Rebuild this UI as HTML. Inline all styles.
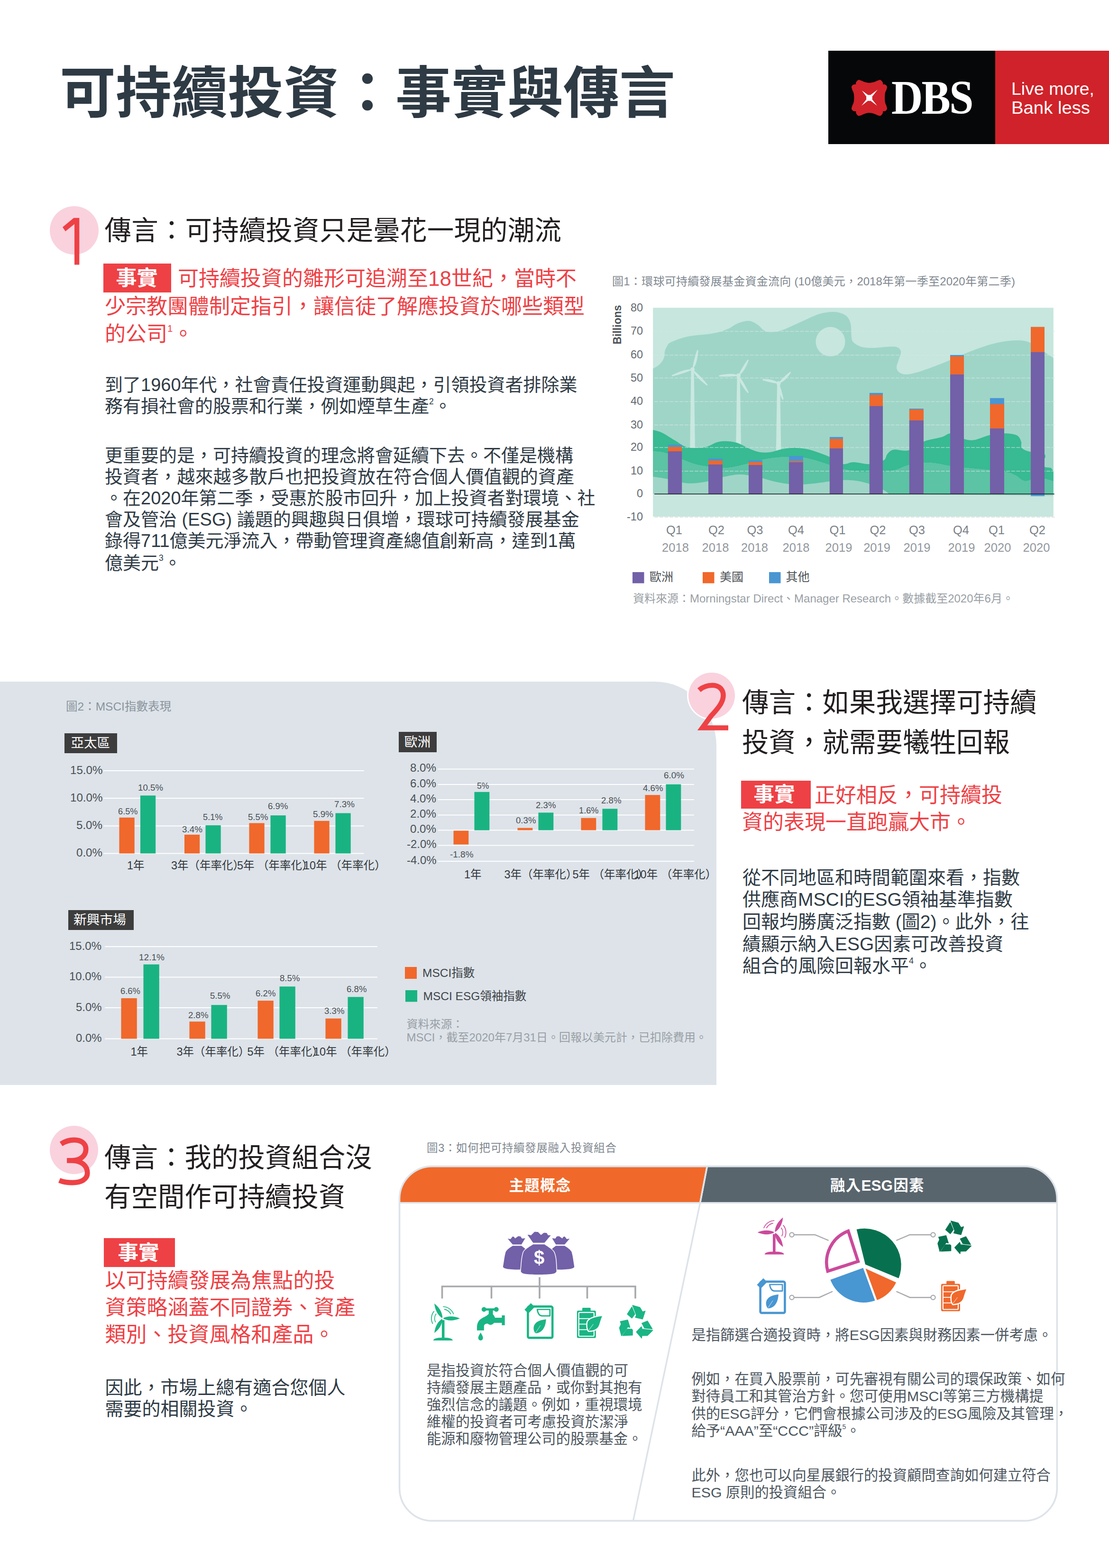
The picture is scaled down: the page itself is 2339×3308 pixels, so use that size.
<!DOCTYPE html>
<html lang="zh-HK">
<head>
<meta charset="utf-8">
<title>可持續投資：事實與傳言</title>
<style>
html,body{margin:0;padding:0;background:#fff;}
#page{position:relative;width:2339px;height:3308px;overflow:hidden;background:#fff;font-family:"Liberation Sans","Noto Sans CJK TC",sans-serif;}
.t{position:absolute;white-space:nowrap;text-align:justify;text-align-last:justify;margin:0;padding:0;color:#2f3b45;}
.n{position:absolute;white-space:nowrap;transform-origin:0 0;margin:0;padding:0;}
.b{position:absolute;}
svg{position:absolute;left:0;top:0;overflow:visible;}
sup{font-size:46%;vertical-align:baseline;position:relative;top:-1.0em;line-height:0;}
</style>
</head>
<body>
<div id="page">
<div class="t" style="left:126.0px;top:137.6px;width:1290.0px;font-size:118px;line-height:118px;font-weight:700;color:#2e3a44;">可持續投資：事實與傳言</div>
<div class="b" style="left:1747.0px;top:107.0px;width:352.0px;height:197.0px;background:#050708;"></div>
<div class="b" style="left:2099.0px;top:107.0px;width:240.0px;height:197.0px;background:#d0222a;"></div>
<svg width="2339" height="400" viewBox="0 0 2339 400">
<path fill="#d0222a" d="M1805.1 174.4C1805.9 173.0 1808.0 169.9 1809.6 169.1C1811.2 168.2 1812.3 168.7 1814.8 169.4C1817.2 170.1 1821.3 172.4 1824.4 173.3C1827.4 174.2 1830.2 174.8 1833.2 174.8C1836.3 174.8 1839.6 174.2 1842.8 173.3C1846.1 172.4 1850.0 170.1 1852.5 169.4C1854.9 168.7 1856.0 168.2 1857.6 169.1C1859.2 169.9 1861.3 173.0 1862.1 174.4C1862.8 175.8 1861.4 177.0 1862.2 177.7C1863.1 178.4 1865.8 177.7 1867.2 178.5C1868.7 179.3 1870.4 180.9 1870.8 182.5C1871.2 184.2 1870.5 186.2 1869.8 188.4C1869.2 190.7 1867.5 192.9 1866.9 195.8C1866.3 198.8 1866.1 202.7 1866.1 206.2C1866.1 209.6 1866.3 213.6 1866.9 216.5C1867.5 219.5 1869.2 221.7 1869.8 223.9C1870.5 226.2 1871.2 228.1 1870.8 229.9C1870.4 231.6 1868.7 233.4 1867.2 234.3C1865.8 235.2 1863.1 234.3 1862.2 235.0C1861.3 235.8 1862.7 237.2 1861.9 238.7C1861.2 240.2 1859.2 243.1 1857.6 243.9C1856.1 244.7 1854.9 244.4 1852.5 243.8C1850.0 243.1 1846.1 240.8 1842.8 239.8C1839.6 238.9 1836.3 238.1 1833.2 238.1C1830.2 238.1 1827.4 238.9 1824.4 239.8C1821.3 240.8 1817.2 243.1 1814.8 243.8C1812.3 244.4 1811.1 244.7 1809.6 243.9C1808.0 243.1 1806.2 240.2 1805.5 238.7C1804.8 237.2 1806.1 235.8 1805.1 235.0C1804.2 234.3 1801.5 235.2 1800.0 234.3C1798.5 233.4 1796.6 231.6 1796.1 229.9C1795.7 228.1 1796.5 226.2 1797.2 223.9C1797.9 221.7 1799.6 219.5 1800.3 216.5C1801.0 213.6 1801.4 209.6 1801.4 206.2C1801.4 202.7 1801.0 198.8 1800.3 195.8C1799.6 192.9 1797.9 190.7 1797.2 188.4C1796.5 186.2 1795.7 184.2 1796.1 182.5C1796.6 180.9 1798.5 179.3 1800.0 178.5C1801.4 177.7 1804.1 178.4 1805.0 177.7C1805.9 177.0 1804.4 175.8 1805.1 174.4Z"/>
<path fill="#fff" d="M1817.9 190.9L1831 200.6L1833.4 200.3L1835.8 200.6L1851 189L1839.4 204L1839.9 206.6L1839.4 209.4L1849.9 223L1836 212.6L1833.4 212.9L1830.8 212.6L1817 223L1827.4 209.4L1826.9 206.6L1827.4 204Z"/>
</svg>
<div class="n" style="left:1880.0px;top:155.1px;font-size:102px;line-height:102px;color:#fff;font-weight:700;transform:scaleX(0.9001);font-family:&quot;Liberation Serif&quot;,serif;letter-spacing:-3px;">DBS</div>
<div class="n" style="left:2133.0px;top:168.9px;font-size:37px;line-height:37px;color:#fff;transform:scaleX(1.0131);">Live more,</div>
<div class="n" style="left:2133.0px;top:209.1px;font-size:37px;line-height:37px;color:#fff;transform:scaleX(1.0348);">Bank less</div>
<div class="b" style="left:105.3px;top:434.6px;width:102.4px;height:102.4px;border-radius:50%;background:#f9d2de;"></div>
<svg width="2339" height="700" viewBox="0 0 2339 700"><polygon fill="#ee4145" points="167.3,459.7 155.5,459.7 132,479.3 138,488 157,472.7 157,558.6 167.3,558.6"/></svg>
<div class="t" style="left:220.5px;top:458.9px;width:963.5px;font-size:56.5px;line-height:56.5px;color:#231f20;">傳言：可持續投資只是曇花一現的潮流</div>
<div class="b" style="left:217.5px;top:556.0px;width:143.0px;height:61.0px;background:#ee4145;"></div>
<div class="t" style="left:244.5px;top:565.1px;width:85.5px;font-size:44px;line-height:44px;font-weight:700;color:#fff;">事實</div>
<div class="t" style="left:375.0px;top:566.1px;width:821.0px;font-size:44px;line-height:44px;color:#ee4145;">可持續投資的雛形可追溯至18世紀，當時不</div>
<div class="t" style="left:221.0px;top:625.1px;width:995.0px;font-size:44px;line-height:44px;color:#ee4145;">少宗教團體制定指引，讓信徒了解應投資於哪些類型</div>
<div class="t" style="left:221.0px;top:683.1px;width:162.0px;font-size:44px;line-height:44px;color:#ee4145;">的公司<sup>1</sup>。</div>
<div class="t" style="left:221.0px;top:793.2px;width:977.0px;font-size:38px;line-height:38px;">到了1960年代，社會責任投資運動興起，引領投資者排除業</div>
<div class="t" style="left:221.0px;top:838.2px;width:706.0px;font-size:38px;line-height:38px;">務有損社會的股票和行業，例如煙草生產<sup>2</sup>。</div>
<div class="t" style="left:221.0px;top:941.7px;width:968.0px;font-size:38px;line-height:38px;">更重要的是，可持續投資的理念將會延續下去。不僅是機構</div>
<div class="t" style="left:221.0px;top:987.2px;width:990.0px;font-size:38px;line-height:38px;">投資者，越來越多散戶也把投資放在符合個人價值觀的資產</div>
<div class="t" style="left:221.0px;top:1032.2px;width:977.0px;font-size:38px;line-height:38px;">。在2020年第二季，受惠於股市回升，加上投資者對環境、社</div>
<div class="t" style="left:221.0px;top:1077.2px;width:984.0px;font-size:38px;line-height:38px;">會及管治 (ESG) 議題的興趣與日俱增，環球可持續發展基金</div>
<div class="t" style="left:221.0px;top:1122.2px;width:975.0px;font-size:38px;line-height:38px;">錄得711億美元淨流入，帶動管理資產總值創新高，達到1萬</div>
<div class="t" style="left:221.0px;top:1168.7px;width:144.0px;font-size:38px;line-height:38px;">億美元<sup>3</sup>。</div>
<svg width="2339" height="1320" viewBox="0 0 2339 1320">
<rect x="1377.2" y="649.3" width="844.6" height="440.6" fill="#c6e6de"/>
<path fill="#9fd5c7" d="M1377.2 777.8C1379.1 776.7 1385.1 774.0 1388.5 771.1C1391.9 768.2 1395.7 763.8 1397.8 760.5C1399.9 757.2 1400.5 754.6 1401.3 751.3C1402.0 748.0 1401.3 744.2 1402.3 740.7C1403.3 737.2 1405.0 733.2 1407.1 730.1C1409.2 727.0 1407.9 725.4 1415.0 722.1C1422.1 718.8 1434.9 713.3 1449.5 710.2C1464.1 707.1 1488.4 706.2 1502.5 703.6C1516.6 701.0 1525.5 697.8 1534.3 694.3C1543.1 690.8 1548.0 685.3 1555.5 682.4C1563.0 679.5 1572.2 676.7 1579.3 677.1C1586.3 677.5 1592.5 681.7 1597.8 685.0C1603.1 688.3 1606.7 694.4 1611.1 697.0C1615.5 699.6 1618.1 700.4 1624.3 700.4C1630.5 700.4 1637.6 700.5 1648.2 697.0C1658.8 693.5 1674.7 685.5 1687.9 679.7C1701.2 674.0 1715.8 666.1 1727.7 662.5C1739.6 658.9 1750.2 657.5 1759.5 658.0C1768.8 658.5 1777.6 661.1 1783.3 665.2C1789.0 669.3 1791.8 674.7 1793.9 682.4C1796.0 690.1 1795.0 704.9 1796.0 711.5C1797.0 718.1 1796.7 718.7 1800.0 722.0C1803.3 725.3 1809.3 729.4 1815.9 731.4C1822.5 733.4 1830.0 734.0 1839.7 734.0C1849.4 734.0 1865.4 731.6 1874.2 731.4C1883.0 731.2 1888.4 730.9 1892.7 732.7C1897.0 734.5 1899.6 737.6 1900.1 742.0C1900.5 746.4 1896.9 753.7 1895.4 759.2C1893.9 764.7 1890.7 770.7 1890.9 775.1C1891.1 779.5 1893.3 783.3 1896.7 785.7C1900.1 788.1 1904.5 789.9 1911.3 789.7C1918.1 789.5 1925.4 788.1 1937.8 784.4C1950.2 780.6 1968.7 773.8 1985.5 767.2C2002.3 760.6 2020.8 751.6 2038.4 744.7C2056.1 737.9 2075.9 730.4 2091.4 726.1C2106.9 721.8 2118.8 719.7 2131.2 718.7C2143.6 717.7 2155.4 717.5 2165.6 720.3C2175.8 723.1 2182.7 729.6 2192.1 735.4C2201.5 741.2 2216.9 752.0 2221.8 755.3L2221.8 1046.2L1950 1043.2L1377.2 1042.2Z"/>
<circle cx="1751.5" cy="720.8" r="31" fill="#c6e6de"/>
<polygon fill="#c9e8e0" points="1457.6,779.6 1463.6,779.6 1465.9,946.0 1455.3,946.0"/><circle cx="1460.6" cy="779.6" r="4.6" fill="#c9e8e0"/><path fill="#c9e8e0" d="M1460.6 779.6Q1470.6 769.1 1472.7 738.9L1470.3 738.3Q1461.0 766.5 1460.6 779.6Z"/><path fill="#c9e8e0" d="M1460.6 779.6Q1445.5 776.9 1416.8 791.8L1417.6 794.0Q1448.5 786.5 1460.6 779.6Z"/><path fill="#c9e8e0" d="M1460.6 779.6Q1464.9 794.3 1491.0 813.5L1492.8 811.9Q1472.2 787.5 1460.6 779.6Z"/>
<polygon fill="#c9e8e0" points="1554.6,792.3 1560.6,792.3 1562.9,938.0 1552.3,938.0"/><circle cx="1557.6" cy="792.3" r="4.6" fill="#c9e8e0"/><path fill="#c9e8e0" d="M1557.6 792.3Q1569.7 786.0 1579.0 759.8L1577.0 758.6Q1561.2 780.8 1557.6 792.3Z"/><path fill="#c9e8e0" d="M1557.6 792.3Q1545.1 785.5 1516.5 791.9L1516.5 794.3Q1545.3 795.5 1557.6 792.3Z"/><path fill="#c9e8e0" d="M1557.6 792.3Q1557.6 806.6 1577.0 829.2L1579.0 828.0Q1566.3 801.7 1557.6 792.3Z"/>
<polygon fill="#c9e8e0" points="1639.1,808.8 1645.1,808.8 1647.4,953.0 1636.8,953.0"/><circle cx="1642.1" cy="808.8" r="4.6" fill="#c9e8e0"/><path fill="#c9e8e0" d="M1642.1 808.8Q1654.4 806.8 1668.1 786.1L1666.5 784.3Q1647.6 799.5 1642.1 808.8Z"/><path fill="#c9e8e0" d="M1642.1 808.8Q1633.6 799.6 1608.7 799.6L1608.1 802.0Q1631.3 809.3 1642.1 808.8Z"/><path fill="#c9e8e0" d="M1642.1 808.8Q1638.1 820.8 1650.2 843.0L1652.6 842.4Q1647.8 818.2 1642.1 808.8Z"/>
<path fill="#38ba92" d="M1377.2 907.0C1380.4 908.0 1388.9 909.3 1396.5 912.9C1404.1 916.5 1414.2 923.7 1423.0 928.8C1431.8 933.9 1438.9 941.0 1449.5 943.4C1460.1 945.8 1476.0 945.2 1486.6 943.4C1497.2 941.6 1505.0 934.9 1513.0 932.8C1521.0 930.7 1527.2 930.6 1534.3 930.9C1541.4 931.2 1547.5 931.9 1555.5 934.6C1563.5 937.3 1574.1 944.1 1582.0 947.3C1589.9 950.5 1596.0 952.9 1603.0 954.0C1610.0 955.1 1616.3 955.1 1624.3 954.0C1632.3 952.9 1642.4 948.8 1650.8 947.3C1659.2 945.8 1666.3 944.7 1674.7 944.7C1683.1 944.7 1692.4 945.5 1701.2 947.3C1710.0 949.1 1718.9 952.2 1727.7 955.3C1736.5 958.4 1745.8 961.9 1754.2 965.9C1762.6 969.9 1770.4 977.6 1778.0 979.1C1785.6 980.6 1790.6 975.1 1800.0 975.1C1809.4 975.1 1823.8 979.8 1834.4 979.1C1845.0 978.5 1857.4 974.7 1863.6 971.2C1869.8 967.7 1868.0 961.6 1871.5 957.9C1875.0 954.1 1877.3 950.0 1884.8 948.7C1892.3 947.4 1906.0 952.9 1916.6 950.0C1927.2 947.1 1936.9 936.0 1948.4 931.4C1959.9 926.8 1975.8 925.1 1985.5 922.2C1995.2 919.3 1998.8 913.6 2006.7 914.2C2014.6 914.9 2025.2 923.8 2033.1 926.1C2041.0 928.5 2045.5 929.6 2054.3 928.3C2063.1 927.0 2075.5 920.6 2086.1 918.2C2096.7 915.9 2108.2 914.2 2117.9 914.2C2127.6 914.2 2138.4 915.3 2144.4 918.2C2150.4 921.1 2151.9 927.0 2153.7 931.4C2155.5 935.8 2152.1 941.2 2155.0 944.7C2157.9 948.2 2163.4 950.6 2170.9 952.6C2178.4 954.6 2194.4 954.6 2200.1 956.6C2205.8 958.6 2204.8 962.2 2204.8 964.6C2204.8 967.0 2200.4 967.9 2200.1 971.2C2199.8 974.5 2200.0 981.8 2202.7 984.4C2205.3 987.0 2212.8 985.3 2216.0 987.1C2219.2 988.9 2220.8 993.7 2221.8 995.0L2221.8 1015.4L2221.8 1015.4C2216.9 1014.2 2202.1 1008.4 2192.1 1008.3C2182.1 1008.2 2170.0 1015.8 2161.6 1014.9C2153.2 1014.0 2149.1 1006.3 2141.8 1003.0C2134.5 999.7 2130.7 997.2 2117.9 995.0C2105.1 992.8 2082.6 991.5 2064.9 989.7C2047.2 987.9 2029.7 986.7 2012.0 984.4C1994.3 982.1 1974.5 976.6 1959.0 976.0C1943.5 975.4 1932.5 977.5 1919.2 980.5C1906.0 983.5 1895.0 991.1 1879.5 993.7C1864.0 996.4 1839.8 996.4 1826.5 996.4C1813.2 996.4 1809.8 995.2 1800.0 993.7C1790.2 992.2 1779.5 990.4 1767.4 987.1C1755.4 983.8 1740.9 977.5 1727.7 973.8C1714.5 970.0 1701.2 966.1 1688.0 964.6C1674.8 963.1 1661.5 963.7 1648.2 964.6C1634.9 965.5 1621.7 967.2 1608.4 969.9C1595.2 972.5 1581.9 977.6 1568.7 980.5C1555.5 983.4 1544.5 986.9 1529.0 987.1C1513.5 987.3 1491.5 984.9 1476.0 981.8C1460.5 978.7 1448.6 972.9 1436.2 968.5C1423.8 964.1 1411.6 957.9 1401.8 955.3C1392.0 952.6 1381.3 953.0 1377.2 952.6Z"/>
<path fill="#5cc3a5" d="M1377.2 952.6C1381.3 953.0 1392.0 952.6 1401.8 955.3C1411.6 957.9 1423.8 964.1 1436.2 968.5C1448.6 972.9 1460.5 978.7 1476.0 981.8C1491.5 984.9 1513.5 987.3 1529.0 987.1C1544.5 986.9 1555.5 983.4 1568.7 980.5C1581.9 977.6 1595.2 972.5 1608.4 969.9C1621.7 967.2 1634.9 965.5 1648.2 964.6C1661.5 963.7 1674.8 963.1 1688.0 964.6C1701.2 966.1 1714.5 970.0 1727.7 973.8C1740.9 977.5 1755.4 983.8 1767.4 987.1C1779.5 990.4 1790.2 992.2 1800.0 993.7C1809.8 995.2 1813.2 996.4 1826.5 996.4C1839.8 996.4 1864.0 996.4 1879.5 993.7C1895.0 991.1 1906.0 983.5 1919.2 980.5C1932.5 977.5 1943.5 975.4 1959.0 976.0C1974.5 976.6 1994.3 982.1 2012.0 984.4C2029.7 986.7 2047.2 987.9 2064.9 989.7C2082.6 991.5 2105.1 992.8 2117.9 995.0C2130.7 997.2 2134.5 999.7 2141.8 1003.0C2149.1 1006.3 2153.2 1014.0 2161.6 1014.9C2170.0 1015.8 2182.1 1008.2 2192.1 1008.3C2202.1 1008.4 2216.9 1014.2 2221.8 1015.4L2221.8 1042.2L1875.5 1042.2L1875.5 1042.2C1873.1 1040.5 1868.2 1035.8 1860.9 1032.1C1853.6 1028.4 1842.0 1023.3 1831.8 1020.2C1821.6 1017.1 1810.7 1014.7 1800.0 1013.6C1789.3 1012.5 1781.7 1012.5 1767.4 1013.6C1753.1 1014.7 1729.9 1018.8 1714.4 1020.2C1699.0 1021.6 1687.9 1022.7 1674.7 1022.0C1661.5 1021.3 1648.2 1018.9 1635.0 1016.2C1621.8 1013.5 1607.6 1008.2 1595.2 1005.6C1582.8 1003.0 1571.8 1000.9 1560.8 1000.9C1549.8 1000.9 1540.9 1003.0 1529.0 1005.6C1517.1 1008.2 1502.5 1013.9 1489.2 1016.2C1476.0 1018.5 1462.8 1020.3 1449.5 1019.4C1436.2 1018.5 1421.8 1013.2 1409.7 1010.9C1397.7 1008.6 1382.6 1006.5 1377.2 1005.6Z"/>
<line x1="1380.2" y1="699.1" x2="2224.8" y2="699.1" stroke="#d6e8e3" stroke-width="1" stroke-dasharray="8 2.6"/>
<line x1="1380.2" y1="749.2" x2="2224.8" y2="749.2" stroke="#d6e8e3" stroke-width="1" stroke-dasharray="8 2.6"/>
<line x1="1380.2" y1="797.4" x2="2224.8" y2="797.4" stroke="#d6e8e3" stroke-width="1" stroke-dasharray="8 2.6"/>
<line x1="1380.2" y1="847.2" x2="2224.8" y2="847.2" stroke="#d6e8e3" stroke-width="1" stroke-dasharray="8 2.6"/>
<line x1="1380.2" y1="896.5" x2="2224.8" y2="896.5" stroke="#d6e8e3" stroke-width="1" stroke-dasharray="8 2.6"/>
<line x1="1380.2" y1="944.1" x2="2224.8" y2="944.1" stroke="#d6e8e3" stroke-width="1" stroke-dasharray="8 2.6"/>
<line x1="1380.2" y1="994" x2="2224.8" y2="994" stroke="#d6e8e3" stroke-width="1" stroke-dasharray="8 2.6"/>
<line x1="1380.2" y1="1091.2" x2="2224.8" y2="1091.2" stroke="#d5d9da" stroke-width="1.2" stroke-dasharray="8 2.6"/>
<rect x="1408.9" y="938.1" width="29.2" height="104.1" fill="#4a96d2"/>
<rect x="1408.9" y="942.8" width="29.2" height="99.4" fill="#f0682b"/>
<rect x="1408.9" y="952.1" width="29.2" height="90.1" fill="#7260a8"/>
<rect x="1494" y="967.2" width="29.9" height="75.0" fill="#4a96d2"/>
<rect x="1494" y="971.7" width="29.9" height="70.5" fill="#f0682b"/>
<rect x="1494" y="979.9" width="29.9" height="62.3" fill="#7260a8"/>
<rect x="1579" y="970.9" width="28.9" height="71.3" fill="#4a96d2"/>
<rect x="1579" y="974.9" width="28.9" height="67.3" fill="#f0682b"/>
<rect x="1579" y="981" width="28.9" height="61.2" fill="#7260a8"/>
<rect x="1664.1" y="961.9" width="29.7" height="80.3" fill="#4a96d2"/>
<rect x="1664.1" y="972.8" width="29.7" height="69.4" fill="#f0682b"/>
<rect x="1664.1" y="975.2" width="29.7" height="67.0" fill="#7260a8"/>
<rect x="1749.9" y="921.9" width="28.1" height="120.3" fill="#4a96d2"/>
<rect x="1749.9" y="925.9" width="28.1" height="116.3" fill="#f0682b"/>
<rect x="1749.9" y="946" width="28.1" height="96.2" fill="#7260a8"/>
<rect x="1833.9" y="828.9" width="28.1" height="213.3" fill="#4a96d2"/>
<rect x="1833.9" y="832.9" width="28.1" height="209.3" fill="#f0682b"/>
<rect x="1833.9" y="856.7" width="28.1" height="185.5" fill="#7260a8"/>
<rect x="1917.9" y="862" width="29.9" height="180.2" fill="#4a96d2"/>
<rect x="1917.9" y="863.9" width="29.9" height="178.3" fill="#f0682b"/>
<rect x="1917.9" y="886.9" width="29.9" height="155.3" fill="#7260a8"/>
<rect x="2004" y="748.9" width="28.9" height="293.3" fill="#4a96d2"/>
<rect x="2004" y="751.8" width="28.9" height="290.4" fill="#f0682b"/>
<rect x="2004" y="790" width="28.9" height="252.2" fill="#7260a8"/>
<rect x="2088" y="839.8" width="29.9" height="202.4" fill="#4a96d2"/>
<rect x="2088" y="852.7" width="29.9" height="189.5" fill="#f0682b"/>
<rect x="2088" y="903.9" width="29.9" height="138.3" fill="#7260a8"/>
<rect x="2174.1" y="689.8" width="28.9" height="352.4" fill="#4a96d2"/>
<rect x="2174.1" y="689.8" width="28.9" height="352.4" fill="#f0682b"/>
<rect x="2174.1" y="742.8" width="28.9" height="299.4" fill="#7260a8"/>
<rect x="2174.1" y="1042.2" width="28.9" height="4.5" fill="#4a96d2"/>
<line x1="1380.2" y1="1042.2" x2="2223.8" y2="1042.2" stroke="#1a1a1a" stroke-width="1.4"/>
<rect x="1334" y="1207" width="24.5" height="23.5" fill="#7260a8"/>
<rect x="1482" y="1207" width="24.5" height="23.5" fill="#f0682b"/>
<rect x="1622" y="1207" width="24.5" height="23.5" fill="#4a96d2"/>
</svg>
<div class="t" style="left:1291.0px;top:581.5px;width:850.0px;font-size:24px;line-height:24px;color:#7f8890;">圖1：環球可持續發展基金資金流向 (10億美元，2018年第一季至2020年第二季)</div>
<div class="n" style="left:1329.9px;top:637.7px;font-size:23.5px;line-height:23.5px;color:#636a6f;">80</div>
<div class="n" style="left:1329.9px;top:687.3px;font-size:23.5px;line-height:23.5px;color:#636a6f;">70</div>
<div class="n" style="left:1329.9px;top:737.4px;font-size:23.5px;line-height:23.5px;color:#636a6f;">60</div>
<div class="n" style="left:1329.9px;top:785.6px;font-size:23.5px;line-height:23.5px;color:#636a6f;">50</div>
<div class="n" style="left:1329.9px;top:835.4px;font-size:23.5px;line-height:23.5px;color:#636a6f;">40</div>
<div class="n" style="left:1329.9px;top:884.7px;font-size:23.5px;line-height:23.5px;color:#636a6f;">30</div>
<div class="n" style="left:1329.9px;top:932.3px;font-size:23.5px;line-height:23.5px;color:#636a6f;">20</div>
<div class="n" style="left:1329.9px;top:982.2px;font-size:23.5px;line-height:23.5px;color:#636a6f;">10</div>
<div class="n" style="left:1342.9px;top:1030.4px;font-size:23.5px;line-height:23.5px;color:#636a6f;">0</div>
<div class="n" style="left:1322.0px;top:1078.7px;font-size:23.5px;line-height:23.5px;color:#636a6f;">-10</div>
<div class="n" style="left:1301.5px;top:685px;font-size:23px;line-height:23px;font-weight:700;color:#4d5358;transform:translate(-50%,-50%) rotate(-90deg);transform-origin:50% 50%;">Billions</div>
<div class="n" style="left:1405.0px;top:1106.2px;font-size:25.5px;line-height:25.5px;color:#7a8187;">Q1</div>
<div class="n" style="left:1494.0px;top:1106.2px;font-size:25.5px;line-height:25.5px;color:#7a8187;">Q2</div>
<div class="n" style="left:1575.5px;top:1106.2px;font-size:25.5px;line-height:25.5px;color:#7a8187;">Q3</div>
<div class="n" style="left:1662.0px;top:1106.2px;font-size:25.5px;line-height:25.5px;color:#7a8187;">Q4</div>
<div class="n" style="left:1749.5px;top:1106.2px;font-size:25.5px;line-height:25.5px;color:#7a8187;">Q1</div>
<div class="n" style="left:1834.5px;top:1106.2px;font-size:25.5px;line-height:25.5px;color:#7a8187;">Q2</div>
<div class="n" style="left:1917.0px;top:1106.2px;font-size:25.5px;line-height:25.5px;color:#7a8187;">Q3</div>
<div class="n" style="left:2010.0px;top:1106.2px;font-size:25.5px;line-height:25.5px;color:#7a8187;">Q4</div>
<div class="n" style="left:2085.0px;top:1106.2px;font-size:25.5px;line-height:25.5px;color:#7a8187;">Q1</div>
<div class="n" style="left:2171.0px;top:1106.2px;font-size:25.5px;line-height:25.5px;color:#7a8187;">Q2</div>
<div class="n" style="left:1396.1px;top:1143.2px;font-size:25.5px;line-height:25.5px;color:#92989e;">2018</div>
<div class="n" style="left:1480.6px;top:1143.2px;font-size:25.5px;line-height:25.5px;color:#92989e;">2018</div>
<div class="n" style="left:1563.1px;top:1143.2px;font-size:25.5px;line-height:25.5px;color:#92989e;">2018</div>
<div class="n" style="left:1650.6px;top:1143.2px;font-size:25.5px;line-height:25.5px;color:#92989e;">2018</div>
<div class="n" style="left:1740.6px;top:1143.2px;font-size:25.5px;line-height:25.5px;color:#92989e;">2019</div>
<div class="n" style="left:1821.2px;top:1143.2px;font-size:25.5px;line-height:25.5px;color:#92989e;">2019</div>
<div class="n" style="left:1905.6px;top:1143.2px;font-size:25.5px;line-height:25.5px;color:#92989e;">2019</div>
<div class="n" style="left:1999.6px;top:1143.2px;font-size:25.5px;line-height:25.5px;color:#92989e;">2019</div>
<div class="n" style="left:2075.6px;top:1143.2px;font-size:25.5px;line-height:25.5px;color:#92989e;">2020</div>
<div class="n" style="left:2157.6px;top:1143.2px;font-size:25.5px;line-height:25.5px;color:#92989e;">2020</div>
<div class="t" style="left:1370.0px;top:1205.0px;width:49.0px;font-size:25px;line-height:25px;color:#4d5358;">歐洲</div>
<div class="t" style="left:1518.0px;top:1205.0px;width:48.0px;font-size:25px;line-height:25px;color:#4d5358;">美國</div>
<div class="t" style="left:1657.5px;top:1205.0px;width:48.0px;font-size:25px;line-height:25px;color:#4d5358;">其他</div>
<div class="t" style="left:1335.0px;top:1250.5px;width:778.0px;font-size:24px;line-height:24px;color:#999fa5;">資料來源：Morningstar Direct、Manager Research。數據截至2020年6月。</div>
<div class="b" style="left:0;top:1437.5px;width:1511px;height:851px;background:#dde3e9;border-top-right-radius:130px 136px;"></div>
<svg width="2339" height="2320" viewBox="0 0 2339 2320">
<line x1="218.5" y1="1626" x2="767.5" y2="1626" stroke="#fff" stroke-width="2"/>
<line x1="218.5" y1="1684" x2="767.5" y2="1684" stroke="#fff" stroke-width="2"/>
<line x1="218.5" y1="1742.5" x2="767.5" y2="1742.5" stroke="#fff" stroke-width="2"/>
<line x1="218.5" y1="1800.5" x2="767.5" y2="1800.5" stroke="#fff" stroke-width="2"/>
<rect x="251.5" y="1724.8" width="32.2" height="75.7" fill="#f0682b"/>
<rect x="296" y="1678.3" width="32.2" height="122.2" fill="#19b382"/>
<rect x="389" y="1760.9" width="32.2" height="39.6" fill="#f0682b"/>
<rect x="433.5" y="1741.1" width="32.2" height="59.4" fill="#19b382"/>
<rect x="525.5" y="1736.5" width="32.2" height="64.0" fill="#f0682b"/>
<rect x="570.5" y="1720.2" width="32.2" height="80.3" fill="#19b382"/>
<rect x="662.5" y="1731.8" width="32.2" height="68.7" fill="#f0682b"/>
<rect x="707.5" y="1715.5" width="32.2" height="85.0" fill="#19b382"/>
<line x1="923.5" y1="1622.5" x2="1464" y2="1622.5" stroke="#fff" stroke-width="2"/>
<line x1="923.5" y1="1655" x2="1464" y2="1655" stroke="#fff" stroke-width="2"/>
<line x1="923.5" y1="1687" x2="1464" y2="1687" stroke="#fff" stroke-width="2"/>
<line x1="923.5" y1="1719.5" x2="1464" y2="1719.5" stroke="#fff" stroke-width="2"/>
<line x1="923.5" y1="1751.5" x2="1464" y2="1751.5" stroke="#fff" stroke-width="2"/>
<line x1="923.5" y1="1783.5" x2="1464" y2="1783.5" stroke="#fff" stroke-width="2"/>
<line x1="923.5" y1="1817" x2="1464" y2="1817" stroke="#fff" stroke-width="2"/>
<rect x="956.5" y="1752.5" width="31.8" height="29.1" fill="#f0682b"/>
<rect x="1000.5" y="1670.8" width="31.8" height="80.8" fill="#19b382"/>
<rect x="1091.5" y="1746.7" width="31.8" height="4.8" fill="#f0682b"/>
<rect x="1135.5" y="1714.4" width="31.8" height="37.1" fill="#19b382"/>
<rect x="1225.5" y="1725.7" width="31.8" height="25.8" fill="#f0682b"/>
<rect x="1270.5" y="1706.3" width="31.8" height="45.2" fill="#19b382"/>
<rect x="1360.5" y="1677.2" width="31.8" height="74.3" fill="#f0682b"/>
<rect x="1404.5" y="1654.6" width="31.8" height="96.9" fill="#19b382"/>
<line x1="221" y1="1997" x2="796" y2="1997" stroke="#fff" stroke-width="2"/>
<line x1="221" y1="2061.5" x2="796" y2="2061.5" stroke="#fff" stroke-width="2"/>
<line x1="221" y1="2126" x2="796" y2="2126" stroke="#fff" stroke-width="2"/>
<line x1="221" y1="2191.5" x2="796" y2="2191.5" stroke="#fff" stroke-width="2"/>
<rect x="255.5" y="2105.9" width="33.3" height="85.6" fill="#f0682b"/>
<rect x="302.5" y="2034.6" width="33.3" height="156.9" fill="#19b382"/>
<rect x="399.5" y="2155.2" width="33.3" height="36.3" fill="#f0682b"/>
<rect x="445.5" y="2120.2" width="33.3" height="71.3" fill="#19b382"/>
<rect x="543.5" y="2111.1" width="33.3" height="80.4" fill="#f0682b"/>
<rect x="589.5" y="2081.3" width="33.3" height="110.2" fill="#19b382"/>
<rect x="686.5" y="2148.7" width="33.3" height="42.8" fill="#f0682b"/>
<rect x="733.5" y="2103.3" width="33.3" height="88.2" fill="#19b382"/>
<rect x="854" y="2040" width="25" height="25" fill="#f0682b"/>
<rect x="855" y="2089" width="25" height="24.5" fill="#19b382"/>
</svg>
<div class="t" style="left:139.0px;top:1478.5px;width:208.5px;font-size:24.5px;line-height:24.5px;color:#8a949c;">圖2：MSCI指數表現</div>
<div class="b" style="left:136.0px;top:1547.0px;width:111.0px;height:42.0px;background:#3d3d3d;"></div>
<div class="t" style="left:149.6px;top:1554.2px;width:80.8px;font-size:27.5px;line-height:27.5px;color:#fff;">亞太區</div>
<div class="b" style="left:841.0px;top:1544.0px;width:80.0px;height:43.0px;background:#3d3d3d;"></div>
<div class="t" style="left:852.8px;top:1552.2px;width:52.6px;font-size:27.7px;line-height:27.7px;color:#fff;">歐洲</div>
<div class="b" style="left:144.0px;top:1920.0px;width:137.5px;height:41.5px;background:#3d3d3d;"></div>
<div class="t" style="left:155.0px;top:1927.4px;width:111.0px;font-size:27.7px;line-height:27.7px;color:#fff;">新興市場</div>
<div class="n" style="left:147.5px;top:1612.5px;font-size:24.6px;line-height:24.6px;color:#4a5055;transform:scaleX(0.9823);">15.0%</div>
<div class="n" style="left:147.5px;top:1670.5px;font-size:24.6px;line-height:24.6px;color:#4a5055;transform:scaleX(0.9823);">10.0%</div>
<div class="n" style="left:161.0px;top:1729.0px;font-size:24.6px;line-height:24.6px;color:#4a5055;transform:scaleX(0.9810);">5.0%</div>
<div class="n" style="left:161.0px;top:1787.0px;font-size:24.6px;line-height:24.6px;color:#4a5055;transform:scaleX(0.9810);">0.0%</div>
<div class="n" style="left:865.0px;top:1608.0px;font-size:24.6px;line-height:24.6px;color:#4a5055;transform:scaleX(0.9810);">8.0%</div>
<div class="n" style="left:865.0px;top:1640.5px;font-size:24.6px;line-height:24.6px;color:#4a5055;transform:scaleX(0.9810);">6.0%</div>
<div class="n" style="left:865.0px;top:1672.5px;font-size:24.6px;line-height:24.6px;color:#4a5055;transform:scaleX(0.9810);">4.0%</div>
<div class="n" style="left:865.0px;top:1705.0px;font-size:24.6px;line-height:24.6px;color:#4a5055;transform:scaleX(0.9810);">2.0%</div>
<div class="n" style="left:865.0px;top:1737.0px;font-size:24.6px;line-height:24.6px;color:#4a5055;transform:scaleX(0.9810);">0.0%</div>
<div class="n" style="left:857.5px;top:1769.0px;font-size:24.6px;line-height:24.6px;color:#4a5055;transform:scaleX(0.9728);">-2.0%</div>
<div class="n" style="left:857.5px;top:1802.5px;font-size:24.6px;line-height:24.6px;color:#4a5055;transform:scaleX(0.9728);">-4.0%</div>
<div class="n" style="left:146.0px;top:1983.5px;font-size:24.6px;line-height:24.6px;color:#4a5055;transform:scaleX(0.9751);">15.0%</div>
<div class="n" style="left:146.0px;top:2048.0px;font-size:24.6px;line-height:24.6px;color:#4a5055;transform:scaleX(0.9751);">10.0%</div>
<div class="n" style="left:159.5px;top:2112.5px;font-size:24.6px;line-height:24.6px;color:#4a5055;transform:scaleX(0.9721);">5.0%</div>
<div class="n" style="left:159.5px;top:2178.0px;font-size:24.6px;line-height:24.6px;color:#4a5055;transform:scaleX(0.9721);">0.0%</div>
<div class="t" style="left:268.0px;top:1814.5px;width:34.0px;font-size:23.5px;line-height:23.5px;color:#32373b;">1年</div>
<div class="t" style="left:361.0px;top:1814.5px;width:118.0px;font-size:23.5px;line-height:23.5px;color:#32373b;">3年（年率化）</div>
<div class="t" style="left:500.0px;top:1814.5px;width:117.5px;font-size:23.5px;line-height:23.5px;color:#32373b;">5年 （年率化）</div>
<div class="t" style="left:640.0px;top:1814.5px;width:127.5px;font-size:23.5px;line-height:23.5px;color:#32373b;">10年 （年率化）</div>
<div class="t" style="left:979.0px;top:1833.5px;width:33.5px;font-size:23.5px;line-height:23.5px;color:#32373b;">1年</div>
<div class="t" style="left:1063.5px;top:1833.5px;width:118.0px;font-size:23.5px;line-height:23.5px;color:#32373b;">3年（年率化）</div>
<div class="t" style="left:1207.5px;top:1833.5px;width:117.5px;font-size:23.5px;line-height:23.5px;color:#32373b;">5年 （年率化）</div>
<div class="t" style="left:1337.5px;top:1833.5px;width:130.0px;font-size:23.5px;line-height:23.5px;color:#32373b;">10年 （年率化）</div>
<div class="t" style="left:275.5px;top:2207.5px;width:33.0px;font-size:23.5px;line-height:23.5px;color:#32373b;">1年</div>
<div class="t" style="left:372.5px;top:2207.5px;width:118.5px;font-size:23.5px;line-height:23.5px;color:#32373b;">3年（年率化）</div>
<div class="t" style="left:521.5px;top:2207.5px;width:118.5px;font-size:23.5px;line-height:23.5px;color:#32373b;">5年 （年率化）</div>
<div class="t" style="left:661.0px;top:2207.5px;width:129.0px;font-size:23.5px;line-height:23.5px;color:#32373b;">10年 （年率化）</div>
<div class="n" style="left:248.5px;top:1702.4px;font-size:19.2px;line-height:19.2px;color:#4a5055;transform:scaleX(0.9489);">6.5%</div>
<div class="n" style="left:291.0px;top:1652.4px;font-size:19.2px;line-height:19.2px;color:#4a5055;transform:scaleX(0.9742);">10.5%</div>
<div class="n" style="left:384.0px;top:1739.9px;font-size:19.2px;line-height:19.2px;color:#4a5055;transform:scaleX(0.9832);">3.4%</div>
<div class="n" style="left:427.5px;top:1713.9px;font-size:19.2px;line-height:19.2px;color:#4a5055;transform:scaleX(0.9489);">5.1%</div>
<div class="n" style="left:523.0px;top:1713.9px;font-size:19.2px;line-height:19.2px;color:#4a5055;transform:scaleX(0.9718);">5.5%</div>
<div class="n" style="left:565.0px;top:1691.4px;font-size:19.2px;line-height:19.2px;color:#4a5055;transform:scaleX(0.9718);">6.9%</div>
<div class="n" style="left:660.0px;top:1708.4px;font-size:19.2px;line-height:19.2px;color:#4a5055;transform:scaleX(0.9832);">5.9%</div>
<div class="n" style="left:705.0px;top:1687.4px;font-size:19.2px;line-height:19.2px;color:#4a5055;transform:scaleX(0.9832);">7.3%</div>
<div class="n" style="left:1005.5px;top:1648.4px;font-size:19.2px;line-height:19.2px;color:#4a5055;transform:scaleX(0.9194);">5%</div>
<div class="n" style="left:949.0px;top:1793.4px;font-size:19.2px;line-height:19.2px;color:#4a5055;transform:scaleX(0.9875);">-1.8%</div>
<div class="n" style="left:1087.5px;top:1721.4px;font-size:19.2px;line-height:19.2px;color:#4a5055;transform:scaleX(0.9718);">0.3%</div>
<div class="n" style="left:1130.0px;top:1689.4px;font-size:19.2px;line-height:19.2px;color:#4a5055;transform:scaleX(0.9718);">2.3%</div>
<div class="n" style="left:1221.0px;top:1699.9px;font-size:19.2px;line-height:19.2px;color:#4a5055;transform:scaleX(0.9489);">1.6%</div>
<div class="n" style="left:1267.5px;top:1679.4px;font-size:19.2px;line-height:19.2px;color:#4a5055;transform:scaleX(0.9718);">2.8%</div>
<div class="n" style="left:1355.5px;top:1653.4px;font-size:19.2px;line-height:19.2px;color:#4a5055;transform:scaleX(0.9718);">4.6%</div>
<div class="n" style="left:1400.0px;top:1626.4px;font-size:19.2px;line-height:19.2px;color:#4a5055;transform:scaleX(0.9832);">6.0%</div>
<div class="n" style="left:254.0px;top:2080.9px;font-size:19.2px;line-height:19.2px;color:#4a5055;transform:scaleX(0.9603);">6.6%</div>
<div class="n" style="left:293.0px;top:2009.9px;font-size:19.2px;line-height:19.2px;color:#4a5055;transform:scaleX(0.9925);">12.1%</div>
<div class="n" style="left:397.0px;top:2132.4px;font-size:19.2px;line-height:19.2px;color:#4a5055;transform:scaleX(0.9718);">2.8%</div>
<div class="n" style="left:443.0px;top:2091.4px;font-size:19.2px;line-height:19.2px;color:#4a5055;transform:scaleX(0.9718);">5.5%</div>
<div class="n" style="left:539.0px;top:2086.4px;font-size:19.2px;line-height:19.2px;color:#4a5055;transform:scaleX(0.9718);">6.2%</div>
<div class="n" style="left:590.0px;top:2054.4px;font-size:19.2px;line-height:19.2px;color:#4a5055;transform:scaleX(0.9718);">8.5%</div>
<div class="n" style="left:683.5px;top:2123.4px;font-size:19.2px;line-height:19.2px;color:#4a5055;transform:scaleX(0.9718);">3.3%</div>
<div class="n" style="left:731.0px;top:2077.4px;font-size:19.2px;line-height:19.2px;color:#4a5055;transform:scaleX(0.9718);">6.8%</div>
<div class="t" style="left:891.0px;top:2041.0px;width:104.0px;font-size:24.5px;line-height:24.5px;color:#3f4448;">MSCI指數</div>
<div class="t" style="left:892.5px;top:2090.0px;width:205.0px;font-size:24.5px;line-height:24.5px;color:#3f4448;">MSCI ESG領袖指數</div>
<div class="t" style="left:857.5px;top:2148.5px;width:107.5px;font-size:24px;line-height:24px;color:#999fa5;">資料來源：</div>
<div class="t" style="left:857.5px;top:2177.0px;width:597.5px;font-size:24px;line-height:24px;color:#999fa5;">MSCI，截至2020年7月31日。回報以美元計，已扣除費用。</div>
<div class="b" style="left:1449.0px;top:1415.3px;width:104.0px;height:104.0px;border-radius:50%;background:#fff;"></div>
<div class="b" style="left:1452.2px;top:1418.5px;width:97.6px;height:97.6px;border-radius:50%;background:#f9d2de;"></div>
<svg width="2339" height="1600" viewBox="0 0 2339 1600"><path fill="none" stroke="#ee4145" stroke-width="10.6" d="M1474.4 1456 C1483 1448.5 1493 1445.8 1502.7 1445.8 C1517 1445.8 1525.5 1455 1525.5 1467 C1525.5 1481 1515 1494 1500 1510 L1481.3 1535.5 L1536 1535.5"/></svg>
<div class="t" style="left:1565.0px;top:1454.9px;width:621.0px;font-size:56.5px;line-height:56.5px;color:#231f20;">傳言：如果我選擇可持續</div>
<div class="t" style="left:1565.0px;top:1538.9px;width:565.0px;font-size:56.5px;line-height:56.5px;color:#231f20;">投資，就需要犧牲回報</div>
<div class="b" style="left:1563.0px;top:1647.0px;width:147.0px;height:58.5px;background:#ee4145;"></div>
<div class="t" style="left:1589.5px;top:1655.1px;width:85.5px;font-size:43.5px;line-height:43.5px;font-weight:700;color:#fff;">事實</div>
<div class="t" style="left:1718.0px;top:1655.6px;width:374.5px;font-size:44px;line-height:44px;color:#ee4145;">正好相反，可持續投</div>
<div class="t" style="left:1565.0px;top:1713.1px;width:460.0px;font-size:44px;line-height:44px;color:#ee4145;">資的表現一直跑贏大市。</div>
<div class="t" style="left:1566.0px;top:1831.7px;width:560.0px;font-size:39px;line-height:39px;">從不同地區和時間範圍來看，指數</div>
<div class="t" style="left:1566.0px;top:1878.2px;width:550.0px;font-size:39px;line-height:39px;">供應商MSCI的ESG領袖基準指數</div>
<div class="t" style="left:1566.0px;top:1925.2px;width:561.0px;font-size:39px;line-height:39px;">回報均勝廣泛指數 (圖2)。此外，往</div>
<div class="t" style="left:1566.0px;top:1971.7px;width:536.0px;font-size:39px;line-height:39px;">績顯示納入ESG因素可改善投資</div>
<div class="t" style="left:1566.0px;top:2018.2px;width:377.0px;font-size:39px;line-height:39px;">組合的風險回報水平<sup>4</sup>。</div>
<div class="b" style="left:105.0px;top:2374.6px;width:102.0px;height:102.0px;border-radius:50%;background:#f9d2de;"></div>
<svg width="2339" height="2600" viewBox="0 0 2339 2600"><path fill="none" stroke="#ee4145" stroke-width="10.8" d="M128.8 2413.5C137 2408 147 2405 156.5 2405C171 2405 181.2 2412 181.2 2424.5C181.2 2438 170 2448 152 2448.4L141.1 2448.4M152 2448.4C172 2449 184.3 2459 184.3 2474.6C184.3 2488 171 2495 152.8 2495C142 2495 133 2493.5 125.1 2490.2"/></svg>
<div class="t" style="left:220.0px;top:2414.9px;width:565.0px;font-size:56.5px;line-height:56.5px;color:#231f20;">傳言：我的投資組合沒</div>
<div class="t" style="left:220.0px;top:2497.9px;width:506.5px;font-size:56.5px;line-height:56.5px;color:#231f20;">有空間作可持續投資</div>
<div class="b" style="left:219.0px;top:2611.5px;width:149.5px;height:61.0px;background:#ee4145;"></div>
<div class="t" style="left:248.5px;top:2621.6px;width:86.5px;font-size:43.5px;line-height:43.5px;font-weight:700;color:#fff;">事實</div>
<div class="t" style="left:221.5px;top:2680.1px;width:485.0px;font-size:44px;line-height:44px;color:#ee4145;">以可持續發展為焦點的投</div>
<div class="t" style="left:221.5px;top:2736.6px;width:508.0px;font-size:44px;line-height:44px;color:#ee4145;">資策略涵蓋不同證券、資產</div>
<div class="t" style="left:221.5px;top:2794.1px;width:435.0px;font-size:44px;line-height:44px;color:#ee4145;">類別、投資風格和產品。</div>
<div class="t" style="left:221.5px;top:2908.2px;width:482.0px;font-size:39px;line-height:39px;">因此，市場上總有適合您個人</div>
<div class="t" style="left:221.5px;top:2953.2px;width:287.5px;font-size:39px;line-height:39px;">需要的相關投資。</div>
<div class="t" style="left:900.0px;top:2410.5px;width:400.0px;font-size:23.5px;line-height:23.5px;color:#7f8890;">圖3：如何把可持續發展融入投資組合</div>
<svg width="2339" height="3308" viewBox="0 0 2339 3308">
<defs><clipPath id="fr"><rect x="842.5" y="2460.5" width="1387" height="748" rx="69" ry="69"/></clipPath></defs>
<g clip-path="url(#fr)">
<polygon fill="#f0692a" points="842,2460 1489.8,2460 1475.2,2536 842,2536"/>
<polygon fill="#59656d" points="1493.3,2460 2231,2460 2231,2536 1478.7,2536"/>
<line x1="842" y1="2537.8" x2="2231" y2="2537.8" stroke="#dde3e9" stroke-width="3"/>
<polyline points="1491.9,2458 1476.9,2536.5 1335.5,3208" fill="none" stroke="#dde3e9" stroke-width="3.4"/>
</g>
<rect x="842.6" y="2460.6" width="1386.8" height="747.8" rx="69" ry="69" fill="none" stroke="#dde3e9" stroke-width="3.6"/>
<g fill="#7260a8"><path d="M1070.8 2613.3L1077 2614L1080.7 2609Q1084 2608 1086.2 2612.7L1093 2608.1L1097.9 2608.6L1101 2613L1107.8 2612.3L1099.8 2625.6L1081.3 2625.6Z"/><path d="M1081.3 2628.3L1099.8 2628.3C1106 2633 1112 2637 1114 2645L1118 2677C1105 2679 1080 2679 1068.3 2676.7Q1060 2675 1061 2671.8C1063 2662 1063.5 2652 1066.5 2641.6C1069 2636 1076 2632 1081.3 2628.3Z"/></g>
<g fill="#7260a8" transform="translate(2272.2 0) scale(-1 1)"><path d="M1070.8 2613.3L1077 2614L1080.7 2609Q1084 2608 1086.2 2612.7L1093 2608.1L1097.9 2608.6L1101 2613L1107.8 2612.3L1099.8 2625.6L1081.3 2625.6Z"/><path d="M1081.3 2628.3L1099.8 2628.3C1106 2633 1112 2637 1114 2645L1118 2677C1105 2679 1080 2679 1068.3 2676.7Q1060 2675 1061 2671.8C1063 2662 1063.5 2652 1066.5 2641.6C1069 2636 1076 2632 1081.3 2628.3Z"/></g>
<path fill="#7260a8" stroke="#fff" stroke-width="3" stroke-linejoin="round" d="M1124.4 2625.3L1148.4 2625.3C1158 2632 1165 2636 1168.2 2641.6C1171 2648 1172 2655 1172.5 2660.1L1173.7 2682.3Q1172 2687 1163.2 2687.8C1150 2689.5 1122 2689.5 1109 2687.8Q1100 2687 1098.5 2682.3L1100.4 2660.1C1101 2655 1102 2648 1104.1 2641.6C1107 2636 1114 2632 1124.4 2625.3Z"/>
<path fill="#7260a8" d="M1124.4 2625.3L1148.4 2625.3C1158 2632 1165 2636 1168.2 2641.6C1171 2648 1172 2655 1172.5 2660.1L1173.7 2682.3Q1172 2687 1163.2 2687.8C1150 2689.5 1122 2689.5 1109 2687.8Q1100 2687 1098.5 2682.3L1100.4 2660.1C1101 2655 1102 2648 1104.1 2641.6C1107 2636 1114 2632 1124.4 2625.3Z"/>
<path fill="#7260a8" stroke="#7260a8" stroke-width="1" stroke-linejoin="round" d="M1113.3 2605.3L1120.1 2606.5L1127.5 2599.1L1134.9 2599.7L1141 2605.9L1147.2 2601.2L1152.8 2601.6L1155.8 2606.5L1160.8 2606.5L1148.4 2621.3L1124.4 2621.3Z"/>
<path fill="none" stroke="#a7a9ac" stroke-width="3.6" d="M1138 2694.4L1138 2739.6M932.5 2739.6L932.5 2714L1340 2714L1340 2739.6M1036.5 2714L1036.5 2739.6M1238.5 2714L1238.5 2739.6"/>
<g transform="translate(909.0 2749.0)" fill="#1ab584"><path d="M24.4 32.5Q23.9 14.3 7.1 1.0Q9.3 22.3 24.4 32.5Z"/><path d="M24.4 32.5Q40.9 40.8 61.0 32.5Q40.9 24.2 24.4 32.5Z"/><path d="M24.4 32.5Q9.4 42.2 7.1 63.2Q23.9 50.4 24.4 32.5Z"/><rect x="22.9" y="36" width="5.6" height="38.5"/><path d="M4.8 78.9Q6 73 25.4 73Q44.8 73 45.9 78.9Z"/><path fill="none" stroke="#1ab584" stroke-width="1.7" d="M25.3 7.5A25 25 0 0 1 47.7 23.5"/><path fill="none" stroke="#1ab584" stroke-width="1.7" d="M27.8 13.1A19.7 19.7 0 0 1 42.0 23.6"/><path fill="none" stroke="#1ab584" stroke-width="1.7" d="M3.8 43.9A23.5 23.5 0 0 1 6.7 17.1"/><path fill="none" stroke="#1ab584" stroke-width="1.7" d="M9.7 40.6A16.8 16.8 0 0 1 11.0 22.4"/><circle cx="24.4" cy="32.5" r="2.1" fill="#fff"/></g>
<g transform="translate(1006.0 2756.8)" fill="#1ab584"><circle cx="14.8" cy="5.7" r="5"/><circle cx="40.7" cy="5.7" r="5"/><rect x="14.8" y="3.4" width="26" height="4.6"/><rect x="24.7" y="7" width="8.9" height="13"/><ellipse cx="28.6" cy="26.3" rx="9.6" ry="11.8"/><rect x="33" y="23.2" width="20" height="10.8"/><rect x="52.4" y="18.2" width="6.3" height="20.8"/><path d="M22.5 17.5C14 24 2 24 0 41.1L0 50L14.8 50L14.8 41.1C15 37.5 18 35.5 23 35.5Z"/><path d="M7.7 54.5C10.5 59.5 12.7 62.5 12.7 66A5 5.1 0 0 1 2.7 66C2.7 62.5 4.9 59.5 7.7 54.5Z"/></g>
<g transform="translate(1106.3 2749.3)" fill="#1ab584"><rect x="7.1" y="7.1" width="51.8" height="66" rx="3" ry="3" fill="#fff" stroke="#1ab584" stroke-width="4.6"/><polygon points="0,13.8 13.4,0 21.5,8 8,21.8"/><path fill="#fff" stroke="#1ab584" stroke-width="2.7" stroke-linejoin="round" d="M26.8 13.2L53.6 13.2L53.6 26.8L37 26.8Q29 26.8 26.8 13.2Z"/><path d="M45.4 33.9C44.5 44 43 52 35.2 59.3C30 63 26 63.8 22.7 63.3C18 57 18.5 50 21 45.5C25 38.5 33 35.5 45.4 33.9Z"/><path d="M23.5 62L33.5 47" stroke="#fff" stroke-width="0.8" fill="none"/></g>
<g transform="translate(1216.9 2759.0)" fill="#1ab584"><rect x="11.1" y="0" width="17.7" height="8" rx="1.5" ry="1.5"/><rect x="0" y="5.9" width="39.9" height="57.8" rx="2.8" ry="2.8"/><rect x="3.8" y="9.9" width="32.2" height="50.1" rx="2" ry="2" fill="none" stroke="#fff" stroke-width="2.2"/><rect x="3.8" y="21.9" width="32.2" height="1.8" fill="#fff"/><rect x="3.8" y="33.6" width="32.2" height="1.8" fill="#fff"/><rect x="3.8" y="45.3" width="32.2" height="1.8" fill="#fff"/><path stroke="#fff" stroke-width="2.4" d="M55.1 16.4C52 22 50 30 48.3 35.1C46 44 38 49.5 24.3 49.9C20 44 20.3 36 21.2 30.2C24 22 38 17.5 55.1 16.4Z"/><path d="M24.8 47.5L34.5 34.5" stroke="#fff" stroke-width="0.9" fill="none"/></g>
<g transform="translate(1306.5 2754.0)" fill="#1ab584"><polygon stroke-linejoin="round" stroke-width="1.5" stroke="#1ab584" points="16.6,18.5 26.2,3.3 32.4,18.5 26.2,26.7"/><polygon stroke-linejoin="round" stroke-width="1.5" stroke="#1ab584" points="27.7,0.0 43.1,4.3 48.7,13.6 54.2,12.0 48.7,28.7 33.6,25.3 35.7,20.6"/><polygon stroke-linejoin="round" stroke-width="1.5" stroke="#1ab584" points="1.8,33.9 17.3,30.8 22.2,46.5 17.6,45.2 4.3,64.1 0.0,47.4 3.7,39.4"/><polygon stroke-linejoin="round" stroke-width="1.5" stroke="#1ab584" points="6.8,63.7 16.0,49.9 25.5,49.9 27.5,51.8 27.5,62.8"/><polygon stroke-linejoin="round" stroke-width="1.5" stroke="#1ab584" points="47.4,37.6 59.1,32.9 69.0,49.5 53.0,47.8"/><polygon stroke-linejoin="round" stroke-width="1.5" stroke="#1ab584" points="35.7,56.1 46.2,45.0 47.7,49.9 70.2,52.4 59.1,63.5 47.4,63.7 46.8,69.0"/></g>
<g transform="translate(1658.5 2567.5) scale(-1 1)" fill="#cb4a9b"><path d="M24.4 32.5Q23.9 14.3 7.1 1.0Q9.3 22.3 24.4 32.5Z"/><path d="M24.4 32.5Q40.9 40.8 61.0 32.5Q40.9 24.2 24.4 32.5Z"/><path d="M24.4 32.5Q9.4 42.2 7.1 63.2Q23.9 50.4 24.4 32.5Z"/><rect x="22.9" y="36" width="5.6" height="38.5"/><path d="M4.8 78.9Q6 73 25.4 73Q44.8 73 45.9 78.9Z"/><path fill="none" stroke="#cb4a9b" stroke-width="1.7" d="M25.3 7.5A25 25 0 0 1 47.7 23.5"/><path fill="none" stroke="#cb4a9b" stroke-width="1.7" d="M27.8 13.1A19.7 19.7 0 0 1 42.0 23.6"/><path fill="none" stroke="#cb4a9b" stroke-width="1.7" d="M3.8 43.9A23.5 23.5 0 0 1 6.7 17.1"/><path fill="none" stroke="#cb4a9b" stroke-width="1.7" d="M9.7 40.6A16.8 16.8 0 0 1 11.0 22.4"/><circle cx="24.4" cy="32.5" r="2.1" fill="#fff"/></g>
<g transform="translate(1596.5 2696.8)" fill="#4896d2"><rect x="7.1" y="7.1" width="51.8" height="66" rx="3" ry="3" fill="#fff" stroke="#4896d2" stroke-width="4.6"/><polygon points="0,13.8 13.4,0 21.5,8 8,21.8"/><path fill="#fff" stroke="#4896d2" stroke-width="2.7" stroke-linejoin="round" d="M26.8 13.2L53.6 13.2L53.6 26.8L37 26.8Q29 26.8 26.8 13.2Z"/><path d="M45.4 33.9C44.5 44 43 52 35.2 59.3C30 63 26 63.8 22.7 63.3C18 57 18.5 50 21 45.5C25 38.5 33 35.5 45.4 33.9Z"/><path d="M23.5 62L33.5 47" stroke="#fff" stroke-width="0.8" fill="none"/></g>
<g transform="translate(1978.0 2576.0)" fill="#07714f"><polygon stroke-linejoin="round" stroke-width="1.5" stroke="#07714f" points="16.6,18.5 26.2,3.3 32.4,18.5 26.2,26.7"/><polygon stroke-linejoin="round" stroke-width="1.5" stroke="#07714f" points="27.7,0.0 43.1,4.3 48.7,13.6 54.2,12.0 48.7,28.7 33.6,25.3 35.7,20.6"/><polygon stroke-linejoin="round" stroke-width="1.5" stroke="#07714f" points="1.8,33.9 17.3,30.8 22.2,46.5 17.6,45.2 4.3,64.1 0.0,47.4 3.7,39.4"/><polygon stroke-linejoin="round" stroke-width="1.5" stroke="#07714f" points="6.8,63.7 16.0,49.9 25.5,49.9 27.5,51.8 27.5,62.8"/><polygon stroke-linejoin="round" stroke-width="1.5" stroke="#07714f" points="47.4,37.6 59.1,32.9 69.0,49.5 53.0,47.8"/><polygon stroke-linejoin="round" stroke-width="1.5" stroke="#07714f" points="35.7,56.1 46.2,45.0 47.7,49.9 70.2,52.4 59.1,63.5 47.4,63.7 46.8,69.0"/></g>
<g transform="translate(1985.0 2702.5)" fill="#f0682b"><rect x="11.1" y="0" width="17.7" height="8" rx="1.5" ry="1.5"/><rect x="0" y="5.9" width="39.9" height="57.8" rx="2.8" ry="2.8"/><rect x="3.8" y="9.9" width="32.2" height="50.1" rx="2" ry="2" fill="none" stroke="#fff" stroke-width="2.2"/><rect x="3.8" y="21.9" width="32.2" height="1.8" fill="#fff"/><rect x="3.8" y="33.6" width="32.2" height="1.8" fill="#fff"/><rect x="3.8" y="45.3" width="32.2" height="1.8" fill="#fff"/><path stroke="#fff" stroke-width="2.4" d="M55.1 16.4C52 22 50 30 48.3 35.1C46 44 38 49.5 24.3 49.9C20 44 20.3 36 21.2 30.2C24 22 38 17.5 55.1 16.4Z"/><path d="M24.8 47.5L34.5 34.5" stroke="#fff" stroke-width="0.9" fill="none"/></g>
<path fill="#07714f" stroke="#fff" stroke-width="3.6" stroke-linejoin="miter" d="M1823.5 2669.0L1804.4 2592.3A79 79 0 0 1 1896.5 2699.1Z"/>
<path fill="#f0682b" stroke="#fff" stroke-width="3.6" d="M1822.3 2672.8L1892.4 2704.7A77 77 0 0 1 1848.6 2745.2Z"/>
<path fill="#4896d2" stroke="#fff" stroke-width="3.6" d="M1821.5 2672.6L1847.8 2745.0A77 77 0 0 1 1749.1 2698.9Z"/>
<path fill="#fff" stroke="#cb4a9b" stroke-width="6.6" stroke-linejoin="miter" d="M1809.8 2661.1L1745.8 2681.9A70.7 70.7 0 0 1 1789 2597.1Z"/>
<path fill="none" stroke="#a7a9ac" stroke-width="2.4" d="M1675 2605L1718.9 2605L1747.6 2617M1675 2737.2L1727.9 2737.2L1756 2724.5M1963 2605L1918.8 2605L1890.4 2617M1963 2737.2L1918.8 2737.2L1890.4 2724.5"/>
<circle cx="1670" cy="2605" r="4.6" fill="#fff" stroke="#a7a9ac" stroke-width="2.2"/>
<circle cx="1670" cy="2737.2" r="4.6" fill="#fff" stroke="#a7a9ac" stroke-width="2.2"/>
<circle cx="1968" cy="2605" r="4.6" fill="#fff" stroke="#a7a9ac" stroke-width="2.2"/>
<circle cx="1968" cy="2737.2" r="4.6" fill="#fff" stroke="#a7a9ac" stroke-width="2.2"/>
</svg>
<div class="n" style="left:1125.9px;top:2632.5px;font-size:40px;line-height:40px;color:#fff;font-weight:700;">$</div>
<div class="t" style="left:1073.5px;top:2485.9px;width:130.0px;font-size:31.5px;line-height:31.5px;font-weight:700;color:#fff;">主題概念</div>
<div class="t" style="left:1751.0px;top:2485.9px;width:197.5px;font-size:31.5px;line-height:31.5px;font-weight:700;color:#fff;">融入ESG因素</div>
<div class="t" style="left:900.0px;top:2876.9px;width:425.0px;font-size:30.3px;line-height:30.3px;color:#4c565e;">是指投資於符合個人價值觀的可</div>
<div class="t" style="left:900.0px;top:2913.4px;width:440.0px;font-size:30.3px;line-height:30.3px;color:#4c565e;">持續發展主題產品，或你對其抱有</div>
<div class="t" style="left:900.0px;top:2949.4px;width:431.5px;font-size:30.3px;line-height:30.3px;color:#4c565e;">強烈信念的議題。例如，重視環境</div>
<div class="t" style="left:900.0px;top:2985.4px;width:425.0px;font-size:30.3px;line-height:30.3px;color:#4c565e;">維權的投資者可考慮投資於潔淨</div>
<div class="t" style="left:900.0px;top:3020.9px;width:441.0px;font-size:30.3px;line-height:30.3px;color:#4c565e;">能源和廢物管理公司的股票基金。</div>
<div class="t" style="left:1458.5px;top:2801.9px;width:726.5px;font-size:30.3px;line-height:30.3px;color:#4c565e;">是指篩選合適投資時，將ESG因素與財務因素一併考慮。</div>
<div class="t" style="left:1458.5px;top:2895.4px;width:745.0px;font-size:30.3px;line-height:30.3px;color:#4c565e;">例如，在買入股票前，可先審視有關公司的環保政策、如何</div>
<div class="t" style="left:1458.5px;top:2931.4px;width:726.5px;font-size:30.3px;line-height:30.3px;color:#4c565e;">對待員工和其管治方針。您可使用MSCI等第三方機構提</div>
<div class="t" style="left:1458.5px;top:2967.9px;width:750.0px;font-size:30.3px;line-height:30.3px;color:#4c565e;">供的ESG評分，它們會根據公司涉及的ESG風險及其管理，</div>
<div class="t" style="left:1458.5px;top:3004.4px;width:346.5px;font-size:30.3px;line-height:30.3px;color:#4c565e;">給予“AAA”至“CCC”評級<sup>5</sup>。</div>
<div class="t" style="left:1458.5px;top:3097.9px;width:745.0px;font-size:30.3px;line-height:30.3px;color:#4c565e;">此外，您也可以向星展銀行的投資顧問查詢如何建立符合</div>
<div class="t" style="left:1458.5px;top:3134.4px;width:291.5px;font-size:30.3px;line-height:30.3px;color:#4c565e;">ESG 原則的投資組合。</div>
</div>
</body>
</html>
